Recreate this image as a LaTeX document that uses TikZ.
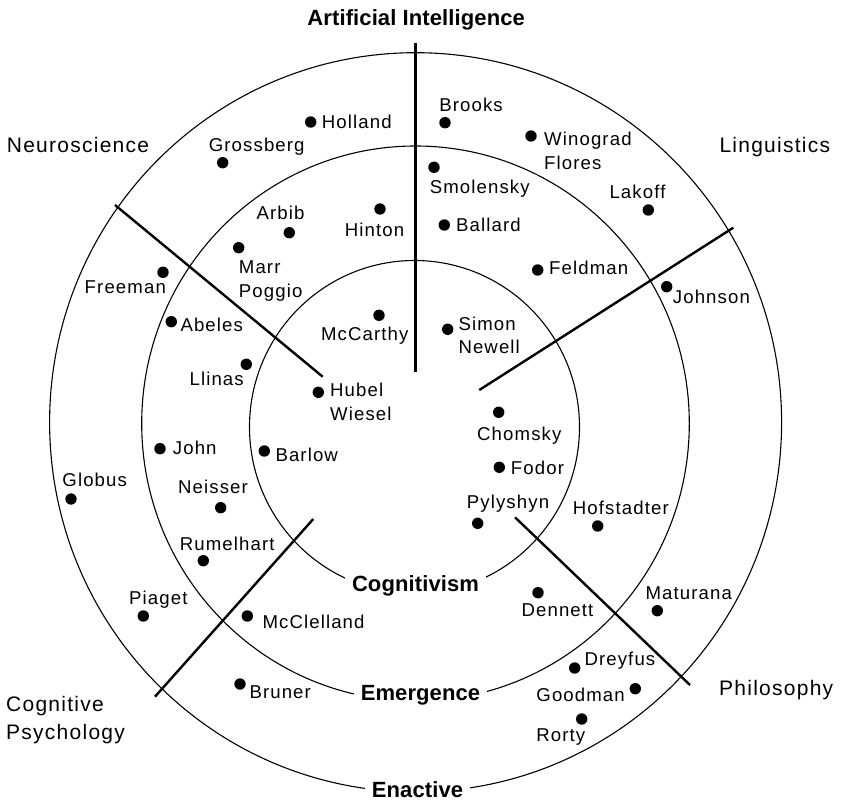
\documentclass[tikz,border=0pt]{standalone}
\usepackage{fontspec}
\newfontfamily\regfont[LetterSpace=6]{Liberation Sans}
\newfontfamily\headfont[LetterSpace=0.5]{Liberation Sans}
\begin{document}
\begin{tikzpicture}[x=1pt,y=-1pt,
  persondot/.style={circle,fill=black,inner sep=0pt,minimum size=11.4pt},
  person/.style={inner sep=0pt,font=\regfont\fontsize{18.6}{22}\selectfont},
  fieldlabel/.style={inner sep=0pt,font=\regfont\fontsize{21}{25}\selectfont},
  paradigm/.style={fill=white,inner xsep=7pt,inner ysep=2pt,font=\headfont\bfseries\fontsize{22}{26}\selectfont},
  ringline/.style={line width=1.1pt},
  spoke/.style={line width=2.4pt}]
\useasboundingbox (0,0) rectangle (841,802);

% three rings: cognitivism, emergence, enactive
\draw[ringline] (414.5,427) ellipse [x radius=165, y radius=166.5];
\draw[ringline] (415.5,423.5) ellipse [x radius=273.8, y radius=277.5];
\draw[ringline] (415.6,422.3) ellipse [x radius=366, y radius=369.6];

% spokes between the fields
\coordinate (vA) at (415.5,43);
\coordinate (vB) at (415.5,371.7);
\coordinate (nwA) at (115,205);
\coordinate (nwB) at (322.7,376.7);
\coordinate (neA) at (733.3,227.7);
\coordinate (neB) at (479.3,390);
\coordinate (swA) at (155,696.7);
\coordinate (swB) at (313.3,519);
\coordinate (seA) at (515,517.3);
\coordinate (seB) at (690,685);
\draw[spoke] (vA) -- (vB);
\draw[spoke] (nwA) -- (nwB);
\draw[spoke] (neA) -- (neB);
\draw[spoke] (swA) -- (swB);
\draw[spoke] (seA) -- (seB);

% ring labels
\node[paradigm,anchor=base] (cogn) at (415.5,591.7) {Cognitivism};
\node[paradigm,anchor=base] (emer) at (420.5,700.7) {Emergence};
\node[paradigm,anchor=base] (enac) at (417.5,797.3) {Enactive};

% field labels
\node[inner sep=0pt,anchor=base,font=\headfont\bfseries\fontsize{22}{26}\selectfont] (ai) at (416.2,26) {Artificial Intelligence};
\node[fieldlabel,anchor=base west] (neuro) at (6.7,152.7) {Neuroscience};
\node[fieldlabel,anchor=base west] (ling) at (719.3,152.7) {Linguistics};
\node[fieldlabel,anchor=base west] (cogA) at (6,711) {Cognitive};
\node[fieldlabel,anchor=base west] (cogB) at (6,739.3) {Psychology};
\node[fieldlabel,anchor=base west] (phil) at (719,695.7) {Philosophy};

% researchers
\node[persondot] (holland) at (310.7,122) {};
\node[person,anchor=base west] (hollandT) at (321.7,128.3) {Holland};
\node[persondot] (grossberg) at (222.7,162.7) {};
\node[person,anchor=base] (grossbergT) at (256.7,151.7) {Grossberg};
\node[persondot] (brooks) at (445,122.7) {};
\node[person,anchor=base] (brooksT) at (471,111.7) {Brooks};
\node[persondot] (winograd) at (531,136) {};
\node[person,anchor=base west] (winogradT) at (544,146) {Winograd};
\node[person,anchor=base west] (floresT) at (544,169.3) {Flores};
\node[persondot] (smolensky) at (434,167.3) {};
\node[person,anchor=base] (smolenskyT) at (479.7,194) {Smolensky};
\node[persondot] (lakoff) at (648.3,210) {};
\node[person,anchor=base] (lakoffT) at (637.5,198.3) {Lakoff};
\node[persondot] (arbib) at (289.3,232.7) {};
\node[person,anchor=base] (arbibT) at (280.5,220) {Arbib};
\node[persondot] (hinton) at (380,209) {};
\node[person,anchor=base] (hintonT) at (374.5,236.7) {Hinton};
\node[persondot] (ballard) at (444.3,225) {};
\node[person,anchor=base west] (ballardT) at (456,231.7) {Ballard};
\node[persondot] (marr) at (238.7,247.7) {};
\node[person,anchor=base west] (marrT) at (238.7,274) {Marr};
\node[person,anchor=base west] (poggioT) at (238.7,297.3) {Poggio};
\node[persondot] (feldman) at (537.7,270) {};
\node[person,anchor=base west] (feldmanT) at (549,275) {Feldman};
\node[persondot] (freeman) at (163,272.3) {};
\node[person,anchor=base] (freemanT) at (125.3,293.3) {Freeman};
\node[persondot] (johnson) at (666.7,286.7) {};
\node[person,anchor=base west] (johnsonT) at (672.7,303.3) {Johnson};
\node[persondot] (abeles) at (171.3,321.7) {};
\node[person,anchor=base west] (abelesT) at (180.3,331.7) {Abeles};
\node[persondot] (mccarthy) at (379,315.3) {};
\node[person,anchor=base] (mccarthyT) at (364.7,340.7) {McCarthy};
\node[persondot] (simon) at (447.7,329.3) {};
\node[person,anchor=base west] (simonT) at (458.3,330.7) {Simon};
\node[person,anchor=base west] (newellT) at (458.3,353.3) {Newell};
\node[persondot] (llinas) at (246.3,364.3) {};
\node[person,anchor=base] (llinasT) at (216.7,385) {Llinas};
\node[persondot] (hubel) at (318.3,392.3) {};
\node[person,anchor=base west] (hubelT) at (330,396.7) {Hubel};
\node[person,anchor=base west] (wieselT) at (330,420.7) {Wiesel};
\node[persondot] (chomsky) at (498.7,412.3) {};
\node[person,anchor=base] (chomskyT) at (519.3,440.7) {Chomsky};
\node[persondot] (john) at (160,448.7) {};
\node[person,anchor=base west] (johnT) at (172.7,454) {John};
\node[persondot] (barlow) at (264.3,451) {};
\node[person,anchor=base west] (barlowT) at (275.3,461.7) {Barlow};
\node[persondot] (fodor) at (499.3,467.3) {};
\node[person,anchor=base west] (fodorT) at (510.7,474) {Fodor};
\node[persondot] (globus) at (71,499) {};
\node[person,anchor=base] (globusT) at (94.7,486.7) {Globus};
\node[persondot] (neisser) at (220.7,507.7) {};
\node[person,anchor=base] (neisserT) at (213,493.3) {Neisser};
\node[persondot] (hofstadter) at (597.7,526) {};
\node[person,anchor=base] (hofstadterT) at (620.8,514) {Hofstadter};
\node[persondot] (pylyshyn) at (477.7,523.3) {};
\node[person,anchor=base] (pylyshynT) at (508,508.3) {Pylyshyn};
\node[persondot] (rumelhart) at (203.3,560.7) {};
\node[person,anchor=base] (rumelhartT) at (227.2,550.7) {Rumelhart};
\node[persondot] (maturana) at (657.3,610.7) {};
\node[person,anchor=base] (maturanaT) at (688.8,599) {Maturana};
\node[persondot] (dennett) at (538,592.7) {};
\node[person,anchor=base] (dennettT) at (557.5,616.7) {Dennett};
\node[persondot] (piaget) at (143.3,616) {};
\node[person,anchor=base] (piagetT) at (158.3,604) {Piaget};
\node[persondot] (mcclelland) at (247.3,616) {};
\node[person,anchor=base west] (mcclellandT) at (262.3,628.3) {McClelland};
\node[persondot] (dreyfus) at (574.7,668) {};
\node[person,anchor=base west] (dreyfusT) at (584.3,665) {Dreyfus};
\node[persondot] (goodman) at (635.3,688.7) {};
\node[person,anchor=base east] (goodmanT) at (625,701) {Goodman};
\node[persondot] (bruner) at (240,684) {};
\node[person,anchor=base west] (brunerT) at (249.3,698.3) {Bruner};
\node[persondot] (rorty) at (581.7,719) {};
\node[person,anchor=base] (rortyT) at (560.8,741.7) {Rorty};
\end{tikzpicture}
\end{document}
